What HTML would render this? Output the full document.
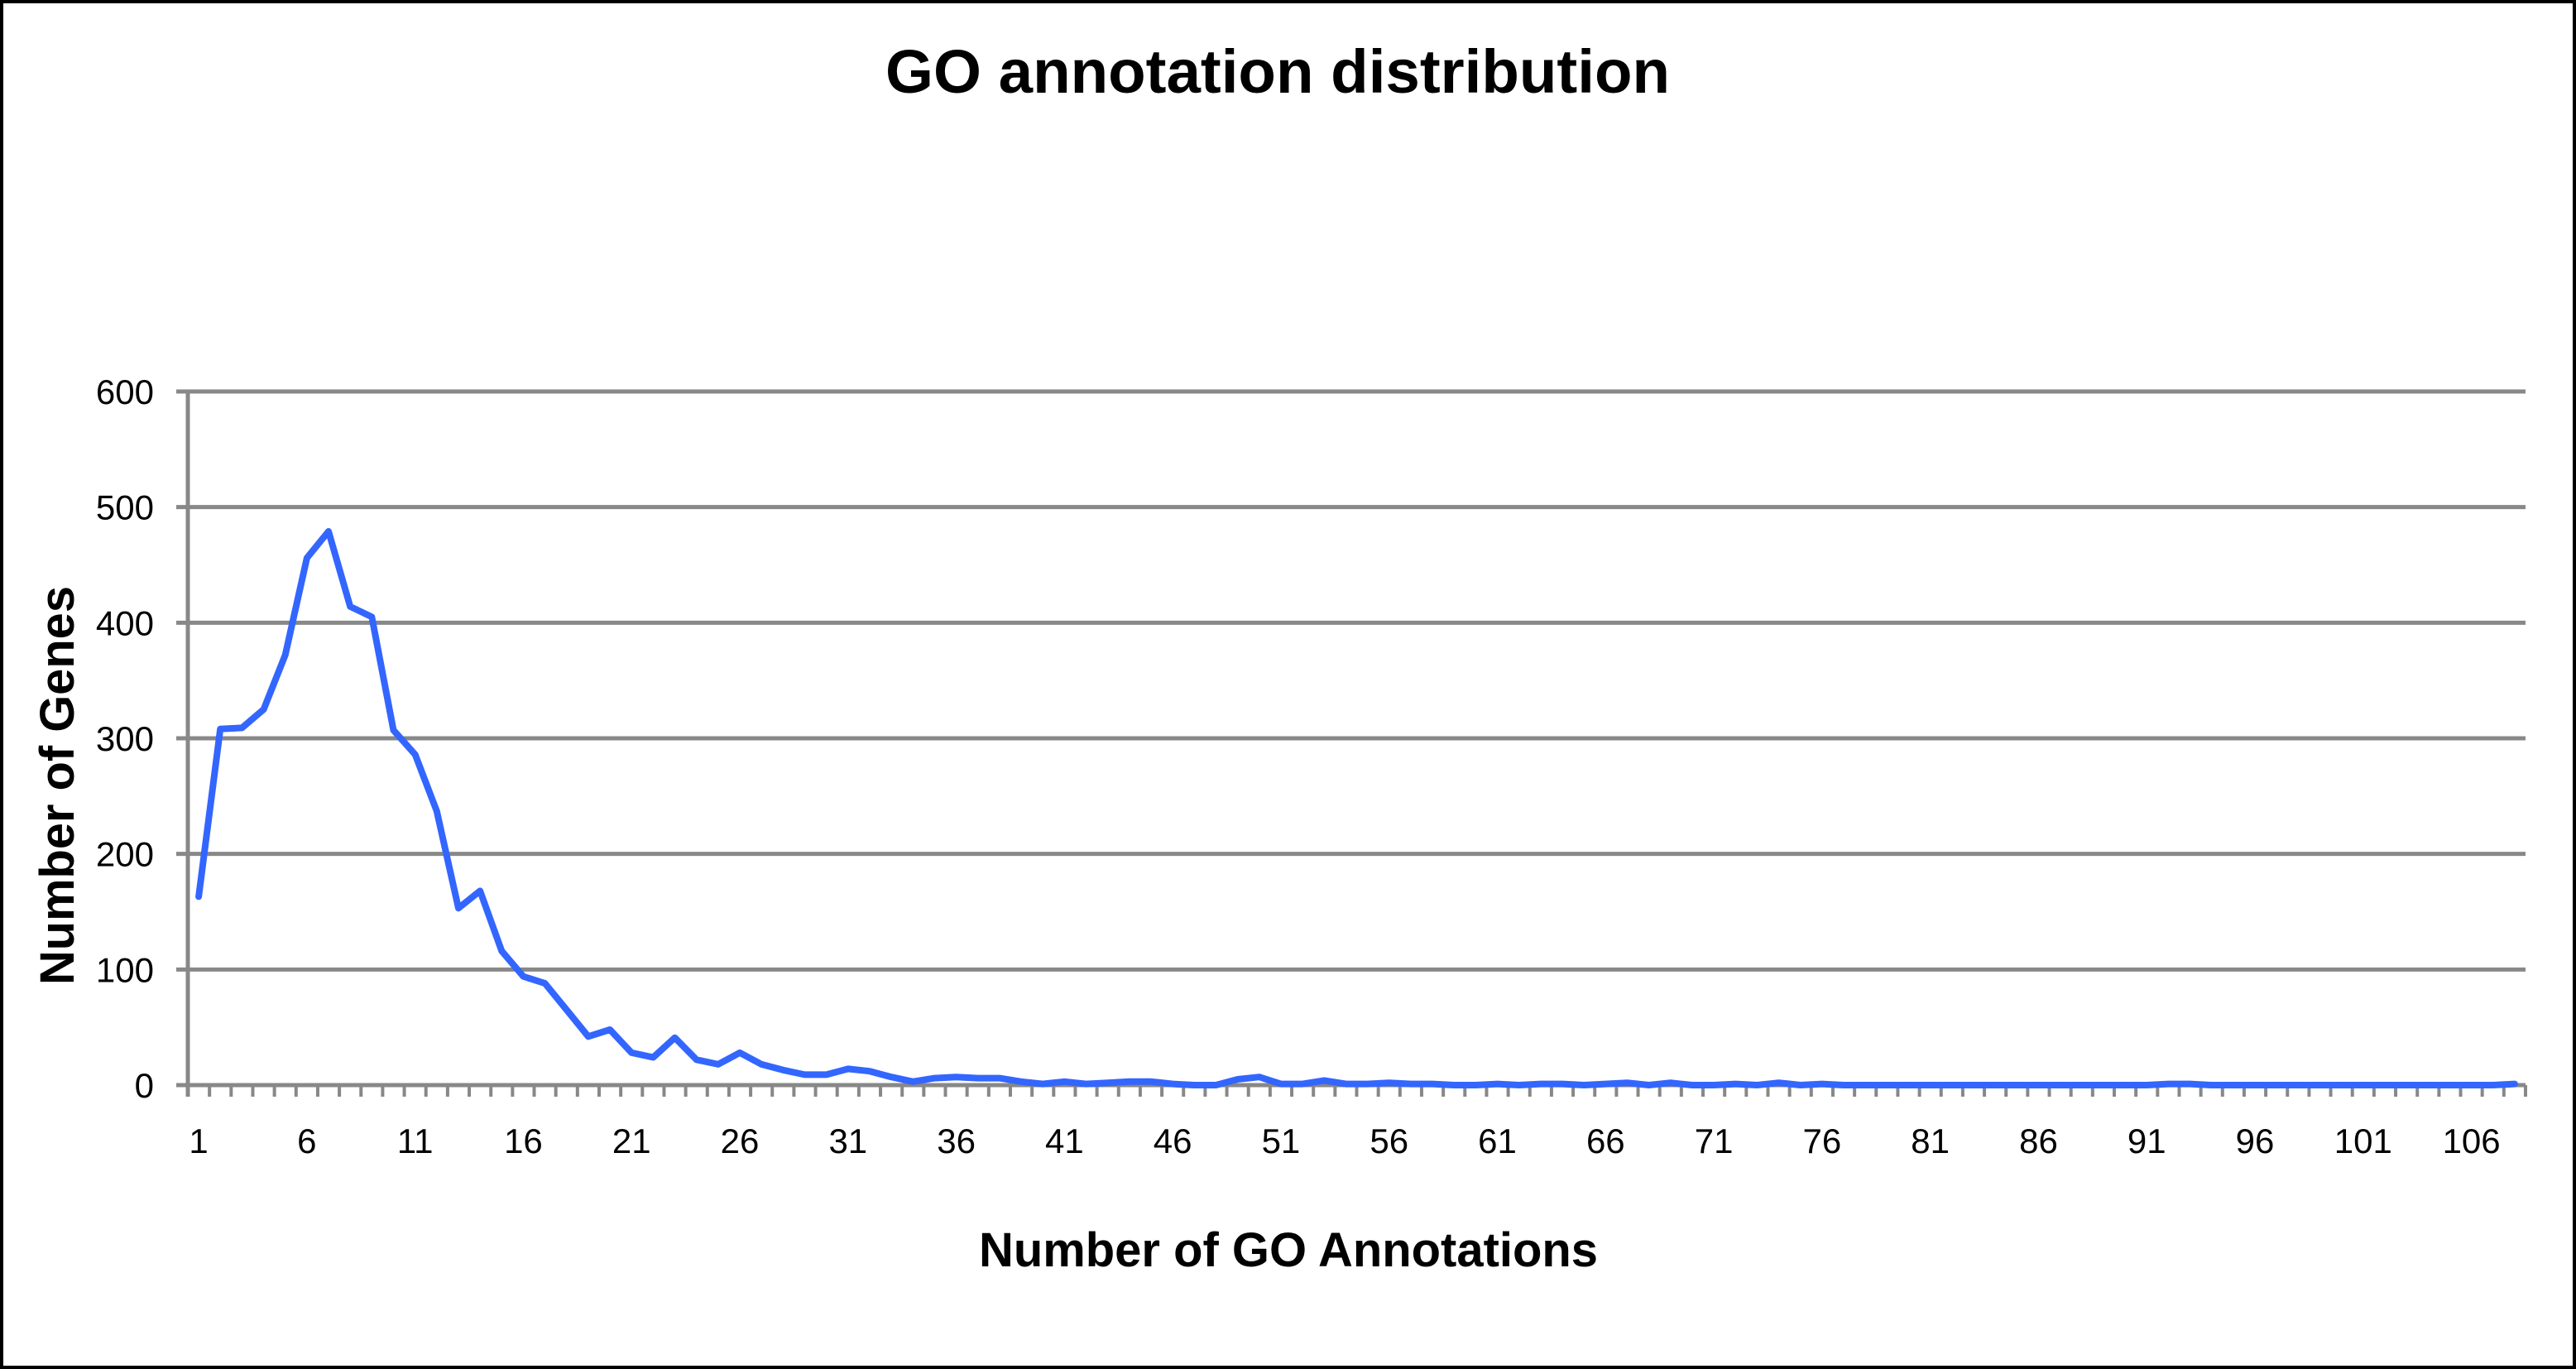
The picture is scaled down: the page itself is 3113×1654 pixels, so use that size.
<!DOCTYPE html>
<html><head><meta charset="utf-8"><style>
html,body{margin:0;padding:0;background:#fff}
svg{display:block}
text{font-family:"Liberation Sans",Arial,sans-serif;fill:#000}
</style></head><body>
<svg id="chart" width="3113" height="1654" viewBox="0 0 3113 1654" xmlns="http://www.w3.org/2000/svg">
<rect x="2" y="2" width="3109" height="1650" fill="#fff" stroke="#000" stroke-width="4"/>
<text x="1544" y="112" text-anchor="middle" font-size="74" font-weight="bold" textLength="948" lengthAdjust="spacingAndGlyphs">GO annotation distribution</text>
<text x="1557" y="1530" text-anchor="middle" font-size="58" font-weight="bold" textLength="748" lengthAdjust="spacingAndGlyphs">Number of GO Annotations</text>
<text transform="translate(89,949) rotate(-90)" text-anchor="middle" font-size="58" font-weight="bold" textLength="482" lengthAdjust="spacingAndGlyphs">Number of Genes</text>
<g id="grid"></g><g id="axes"></g><g id="labels"></g><g id="series"></g>
</svg>
<script>
const yTicks=[0,100,200,300,400,500,600];
const categories=[];for(let i=1;i<=108;i++)categories.push(i);
const genes=[163,308,309,325,372,456,479,414,405,307,286,237,153,168,116,94,88,65,42,48,28,24,41,22,18,28,18,13,9,9,14,12,7,3,6,7,6,6,3,1,3,1,2,3,3,1,0,0,5,7,1,1,4,1,1,2,1,1,0,0,1,0,1,1,0,1,2,0,2,0,0,1,0,2,0,1,0,0,0,0,0,0,0,0,0,0,0,0,0,0,0,1,1,0,0,0,0,0,0,0,0,0,0,0,0,0,0,1];
const X0=227,X1=3052,Y0=1311,Y1=473,YMAX=600;
const bw=(X1-X0)/categories.length;
function xs(i){return X0+bw*(i+0.5);}
function ys(v){return Y0-(v/YMAX)*(Y0-Y1);}
const NS='http://www.w3.org/2000/svg';
function mk(t,a,p){const e=document.createElementNS(NS,t);for(const k in a)e.setAttribute(k,a[k]);p.appendChild(e);return e;}
const grid=document.getElementById('grid'),axes=document.getElementById('axes'),labels=document.getElementById('labels'),series=document.getElementById('series');
yTicks.forEach(v=>{
 if(v>0){const g=mk('line',{x1:X0-14,x2:X1,y1:ys(v),y2:ys(v),stroke:'#888',"stroke-width":5},grid);
 
 }
 const t=mk('text',{x:186,y:ys(v)+15,"text-anchor":"end","font-size":42},labels);t.textContent=v;
 
 
});
const ya=mk('line',{x1:X0,x2:X0,y1:Y1-2,y2:Y0+14,stroke:'#888',"stroke-width":5},axes);


const xa=mk('line',{x1:X0-14,x2:X1,y1:Y0,y2:Y0,stroke:'#888',"stroke-width":5},axes);


for(let i=0;i<=categories.length;i++){
 const tk=mk('line',{x1:X0+bw*i,x2:X0+bw*i,y1:Y0,y2:Y0+14,stroke:'#888',"stroke-width":4},axes);
 
 
}
categories.forEach((c,i)=>{
 if(i%5===0){const t=mk('text',{x:xs(i),y:1393,"text-anchor":"middle","font-size":42},labels);t.textContent=c;
 
 }
});
const pts=genes.map((v,i)=>xs(i).toFixed(1)+','+ys(v).toFixed(1)).join(' ');
const pl=mk('polyline',{points:pts,fill:'none',stroke:'#3366ff',"stroke-width":8,"stroke-linejoin":"round","stroke-linecap":"round"},series);


</script>
</body></html>
